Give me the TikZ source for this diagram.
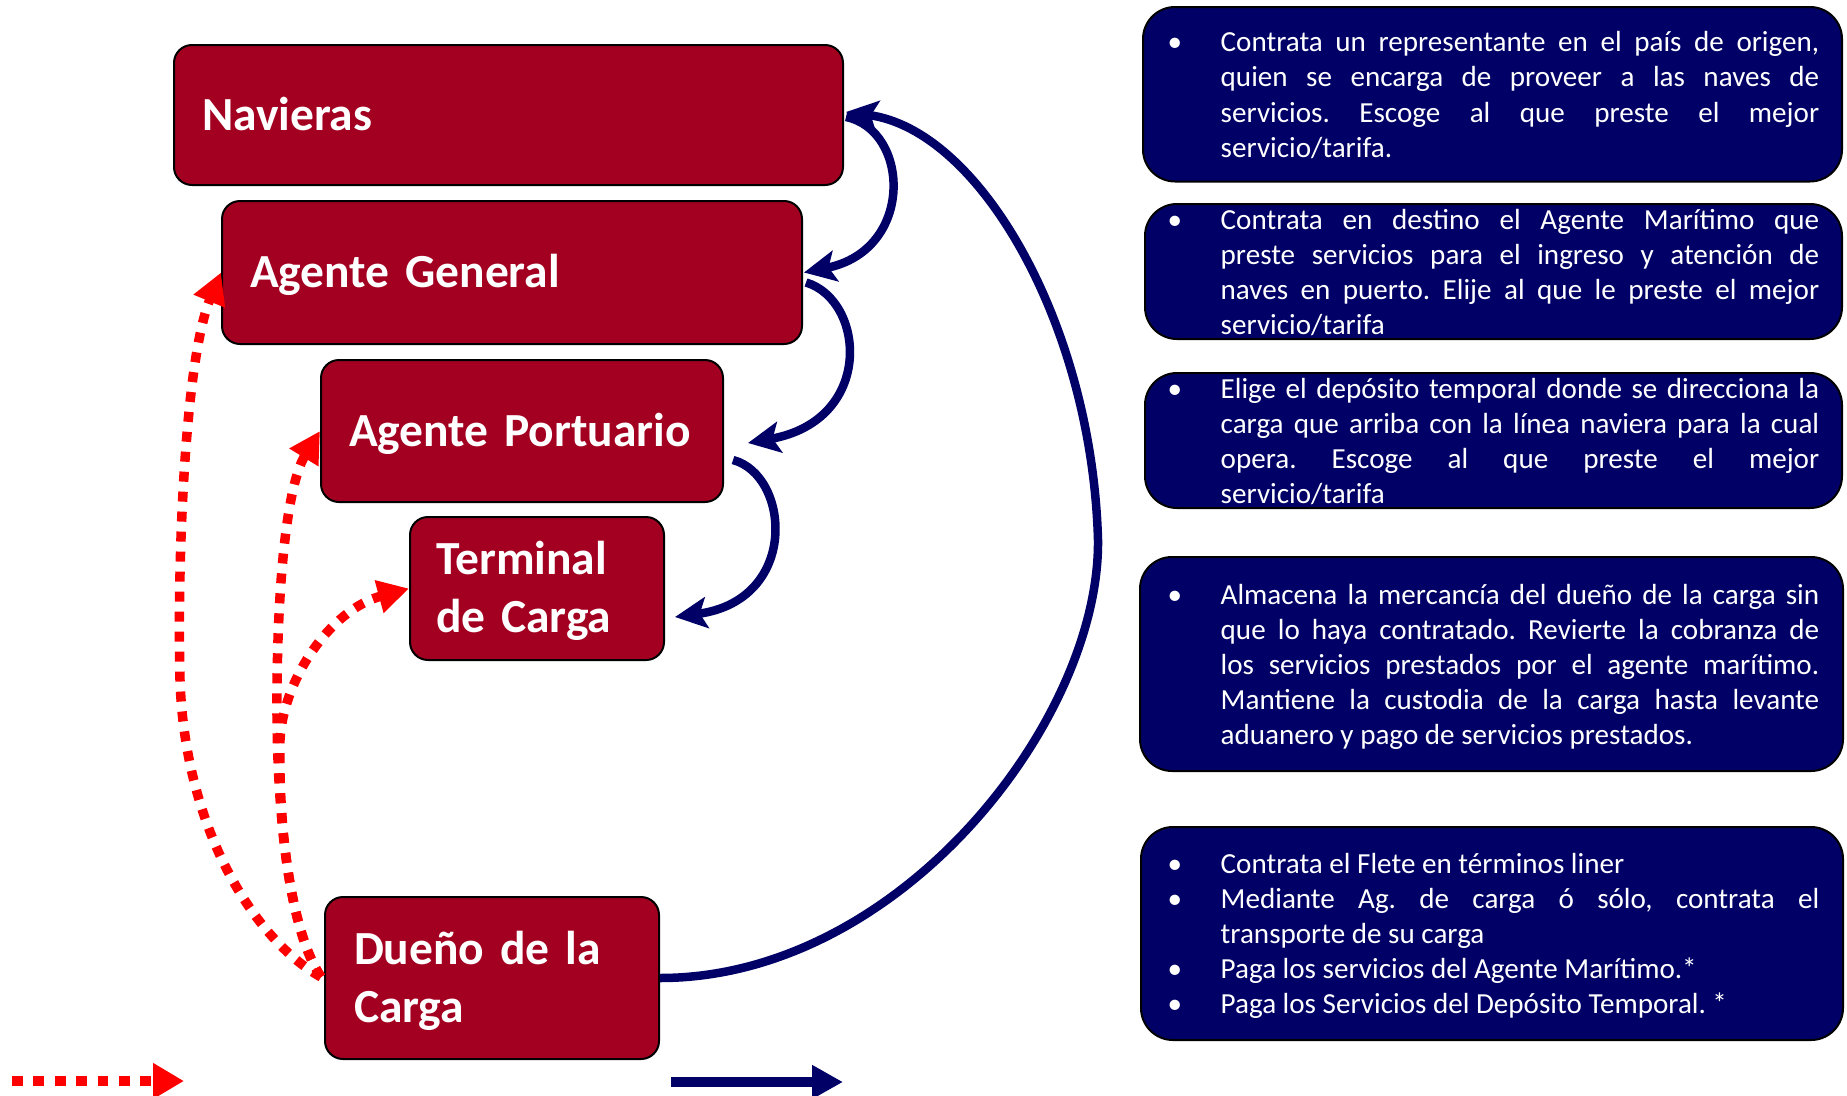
\documentclass[tikz,border=0pt]{standalone}
\usepackage{fontspec}
\setmainfont{Carlito}
\usetikzlibrary{arrows.meta}
\definecolor{boxred}{RGB}{163,0,33}
\definecolor{navyblue}{RGB}{0,0,102}
\definecolor{dotred}{RGB}{255,0,0}
\newcommand\itembul{\leavevmode\llap{\makebox[53pt][l]{•}}}
\newcommand\txtsetup{\frenchspacing\hyphenpenalty=10000\exhyphenpenalty=10000\tolerance=10000\emergencystretch=0pt}
\tikzset{
  redbox/.style={draw=black, line width=2pt, fill=boxred, rounded corners=18pt,
    text=white, font=\bfseries\fontsize{47.5}{58}\selectfont, align=left,
    inner ysep=0pt, text height=30.6pt, text depth=0pt},
  bluebox/.style={draw=black, line width=2pt, fill=navyblue, rounded corners=32pt, inner sep=0pt},
  txt/.style={anchor=base west, inner sep=0pt, text=white, text width=598.5pt, align=justify,
    font=\fontsize{29.1}{35.2}\selectfont},
  navyarrow/.style={draw=navyblue, line width=8.5pt,
    -{Stealth[length=32pt,width=31pt,inset=7pt]}},
  redarrow/.style={draw=dotred, line width=9.5pt, dash pattern=on 10pt off 10pt,
    -{Triangle[length=31pt,width=32pt]}}
}
\begin{document}
\begin{tikzpicture}[x=1pt,y=-1pt]
\useasboundingbox (0,0) rectangle (1847,1095);

% left boxes
\node[redbox, minimum width=669pt, minimum height=140pt, text width=613pt, inner xsep=28pt] (nav) at (508.5,115) {Navieras};
\node[redbox, minimum width=580pt, minimum height=143pt, text width=524pt, inner xsep=28pt] (ag) at (512,272.5) {Agente General};
\node[redbox, minimum width=402pt, minimum height=142pt, text width=346pt, inner xsep=28pt] (ap) at (522,431) {Agente Portuario};
\node[redbox, minimum width=254pt, minimum height=143pt, text width=202pt, inner xsep=26pt, text depth=58pt] (tc) at (537,588.5) {Terminal\\de Carga};
\node[redbox, minimum width=334pt, minimum height=162pt, text width=276pt, inner xsep=29pt, text depth=57pt] (dc) at (492,978) {Dueño de la\\Carga};

% right boxes
\node[bluebox, minimum width=699pt, minimum height=174.5pt] (b1) at (1492.5,94.25) {};
\node[bluebox, minimum width=697pt, minimum height=135pt] (b2) at (1493.5,271.5) {};
\node[bluebox, minimum width=697pt, minimum height=135pt] (b3) at (1493.5,440.5) {};
\node[bluebox, minimum width=703pt, minimum height=214pt] (b4) at (1491.5,664) {};
\node[bluebox, minimum width=702pt, minimum height=213pt] (b5) at (1492,933.5) {};

\node[txt] (t1) at (1220.5,51.6) {\txtsetup\itembul Contrata un representante en el país de origen,\linebreak quien se encarga de proveer a las naves de\linebreak servicios. Escoge al que preste el mejor\linebreak servicio/tarifa.};
\node[txt] (t2) at (1220.5,229) {\txtsetup\itembul Contrata en destino el Agente Marítimo que\linebreak preste servicios para el ingreso y atención de\linebreak naves en puerto. Elije al que le preste el mejor\linebreak servicio/tarifa};
\node[txt] (t3) at (1220.5,398) {\txtsetup\itembul Elige el depósito temporal donde se direcciona la\linebreak carga que arriba con la línea naviera para la cual\linebreak opera. Escoge al que preste el mejor\linebreak servicio/tarifa};
\node[txt] (t4) at (1220.5,604) {\txtsetup\itembul Almacena la mercancía del dueño de la carga sin\linebreak que lo haya contratado. Revierte la cobranza de\linebreak los servicios prestados por el agente marítimo.\linebreak Mantiene la custodia de la carga hasta levante\linebreak aduanero y pago de servicios prestados.};
\node[txt] (t5) at (1220.5,873) {\txtsetup\itembul Contrata el Flete en términos liner\par
\itembul Mediante Ag. de carga ó sólo, contrata el\linebreak transporte de su carga\par
\itembul Paga los servicios del Agente Marítimo.*\par
\itembul Paga los Servicios del Depósito Temporal. *};

% navy connectors
\draw[navyarrow] ([shift={(2,2)}]nav.east) .. controls (910,130) and (915,250) .. ([shift={(1,0)}]ag.east);
\draw[navyarrow] ([shift={(3,10)}]ag.east) .. controls (865,300) and (875,420) .. ([shift={(24,12)}]ap.east);
\draw[navyarrow] ([shift={(9,29)}]ap.east) .. controls (790,475) and (800,600) .. ([shift={(10,28.5)}]tc.east);
\draw[navyarrow] (dc.east) .. controls (900,978) and (1100,720) .. (1098,540)
  .. controls (1092,325) and (980,130) .. ([shift={(2,-3)}]nav.east);

% red dotted connectors
\draw[redarrow] ([shift={(-3,-1)}]dc.west) .. controls (255,940) and (185,830) .. (180,680)
  .. controls (177,560) and (185,360) .. (ag.west);
\draw[redarrow] ([shift={(-3,-1)}]dc.west) .. controls (290,930) and (276,820) .. (277,690)
  .. controls (278,560) and (290,480) .. (ap.west);
\draw[redarrow] ([shift={(-3,-1)}]dc.west) .. controls (292,935) and (278,830) .. (280,740)
  .. controls (283,680) and (330,610) .. (tc.west);

% legend
\coordinate (lr1) at (12,1081);
\coordinate (lr2) at (184,1081);
\coordinate (lb1) at (671,1082);
\coordinate (lb2) at (843,1082);
\draw[draw=dotred, line width=10pt, dash pattern=on 10.7pt off 10.7pt, -{Triangle[length=31pt,width=34pt]}] (lr1) -- (lr2);
\draw[draw=navyblue, line width=10.5pt, -{Triangle[length=31pt,width=32pt]}] (lb1) -- (lb2);
\end{tikzpicture}
\end{document}
